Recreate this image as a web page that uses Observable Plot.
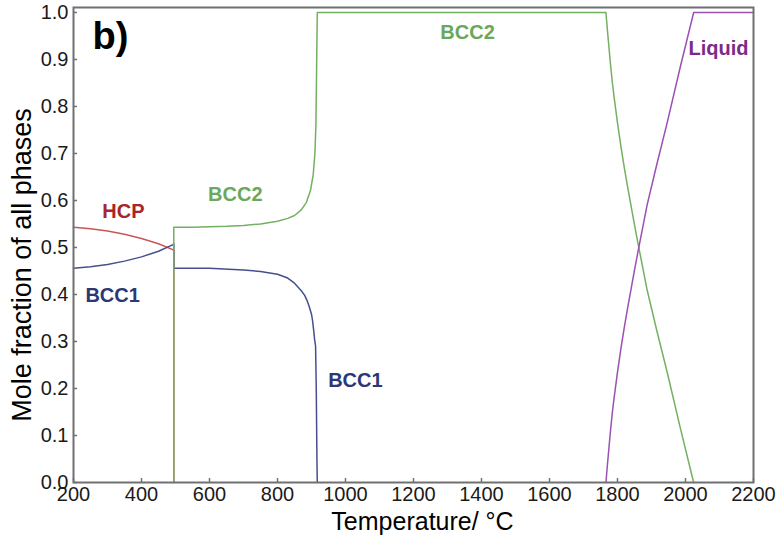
<!DOCTYPE html>
<html><head><meta charset="utf-8">
<script src="https://cdn.jsdelivr.net/npm/d3@7"></script>
<script src="https://cdn.jsdelivr.net/npm/@observablehq/plot@0.6"></script>
<style>body{margin:0;background:#fff} svg{display:block}</style>
</head><body><div id="chart"></div>
<script>
// Temperature (°C) and mole fraction for each phase curve
const hcpT  = [200, 250, 300, 350, 400, 450, 490, 495, 495];
const hcpY  = [0.543, 0.540, 0.535, 0.528, 0.519, 0.508, 0.496, 0.494, 0];

const bcc1T = [200, 250, 300, 350, 400, 450, 493, 495, 495, 600, 700, 750, 800, 830, 850, 870, 880, 887, 893, 900, 903, 907, 909, 912, 914, 916, 917];
const bcc1Y = [0.456, 0.459, 0.464, 0.471, 0.480, 0.492, 0.506, 0.508, 0.456, 0.456, 0.452, 0.449, 0.443, 0.435, 0.424, 0.408, 0.398, 0.387, 0.375, 0.358, 0.345, 0.320, 0.305, 0.290, 0.200, 0.050, 0];

const bcc2T = [495, 495, 550, 600, 650, 700, 750, 800, 830, 850, 870, 885, 897, 905, 910, 913, 915, 917, 1766, 1770, 1775, 1780, 1785, 1790, 1800, 1810, 1820, 1830, 1840, 1850, 1860, 1887, 1915, 1946, 1985, 2024];
const bcc2Y = [0, 0.543, 0.543, 0.544, 0.545, 0.547, 0.550, 0.556, 0.562, 0.568, 0.580, 0.596, 0.621, 0.655, 0.700, 0.760, 0.880, 1.0, 1.0, 0.965, 0.925, 0.885, 0.850, 0.820, 0.765, 0.715, 0.670, 0.628, 0.588, 0.548, 0.510, 0.410, 0.325, 0.235, 0.115, 0];

const liqT  = [1766, 1770, 1775, 1780, 1785, 1790, 1800, 1810, 1820, 1830, 1840, 1850, 1860, 1887, 1915, 1946, 1985, 2024, 2200];
const liqY  = [0, 0.035, 0.075, 0.115, 0.150, 0.180, 0.235, 0.285, 0.330, 0.372, 0.412, 0.452, 0.490, 0.590, 0.675, 0.765, 0.885, 1.0, 1.0];

const xTicks = [200, 400, 600, 800, 1000, 1200, 1400, 1600, 1800, 2000, 2200];
const yTicks = [0, 0.1, 0.2, 0.3, 0.4, 0.5, 0.6, 0.7, 0.8, 0.9, 1.0];

const labelText  = ["HCP", "BCC1", "BCC2", "BCC2", "BCC1", "Liquid"];
const labelPhase = ["HCP", "BCC1", "BCC2", "BCC2", "BCC1", "Liquid"];
const labelT     = [347, 315, 676, 1359, 1029, 2097];
const labelY     = [0.577, 0.398, 0.613, 0.957, 0.217, 0.923];

const lineColor  = {HCP: "#cc5555", BCC1: "#46508c", BCC2: "#74b062", Liquid: "#9c50b2"};
const labelColor = {HCP: "#a8262b", BCC1: "#2b3875", BCC2: "#6aa85c", Liquid: "#7b2a8c"};

function rows(phase, T, Y) { return T.map((t, i) => ({phase, T: t, y: Y[i]})); }
const series = [
  ...rows("HCP", hcpT, hcpY),
  ...rows("BCC1", bcc1T, bcc1Y),
  ...rows("BCC2", bcc2T, bcc2Y),
  ...rows("Liquid", liqT, liqY)
];
const labels = labelText.map((t, i) => ({text: t, phase: labelPhase[i], T: labelT[i], y: labelY[i]}));

const W = 777, H = 540, mL = 73, mR = 24, mT = 7, mB = 58;
const plot = Plot.plot({
  width: W, height: H,
  marginLeft: mL, marginRight: mR, marginTop: mT, marginBottom: mB,
  style: {fontFamily: "Liberation Sans, Arial, sans-serif", background: "#fff", color: "#1a1a1a"},
  x: {domain: [200, 2200], axis: null},
  y: {domain: [0, 1.0106], axis: null},
  marks: [
    Plot.line(series, {x: "T", y: "y", z: "phase", stroke: d => lineColor[d.phase], strokeWidth: 1.5}),
    Plot.frame({stroke: "#707070", strokeWidth: 2}),
    Plot.tickX(xTicks, {x: d => d, insetTop: H - mT - mB - 4, stroke: "#707070", strokeWidth: 1.5}),
    Plot.tickY(yTicks, {y: d => d, insetRight: W - mL - mR - 4, stroke: "#707070", strokeWidth: 1.5}),
    Plot.axisX(xTicks, {tickSize: 0, tickPadding: 4, fontSize: 20, tickFormat: d => String(d), label: null}),
    Plot.axisY(yTicks, {tickSize: 0, tickPadding: 5, fontSize: 20, tickFormat: d => d.toFixed(1), label: null}),
    Plot.text(labels, {x: "T", y: "y", text: "text", fill: d => labelColor[d.phase], fontSize: 20, fontWeight: "bold"}),
    Plot.text(["b)"], {frameAnchor: "top-left", dx: 19, dy: 15, text: d => d, fontSize: 38, fontWeight: "bold", textAnchor: "start", lineAnchor: "top", fill: "#000"}),
    Plot.text(["Temperature/ °C"], {frameAnchor: "bottom", dx: 9, dy: 30, text: d => d, fontSize: 25, lineAnchor: "top", fill: "#000"}),
    Plot.text(["Mole fraction of all phases"], {frameAnchor: "left", dx: -51, dy: 20, rotate: -90, textAnchor: "middle", text: d => d, fontSize: 27, fill: "#000"})
  ]
});
document.getElementById("chart").appendChild(plot);
</script>
</body></html>
